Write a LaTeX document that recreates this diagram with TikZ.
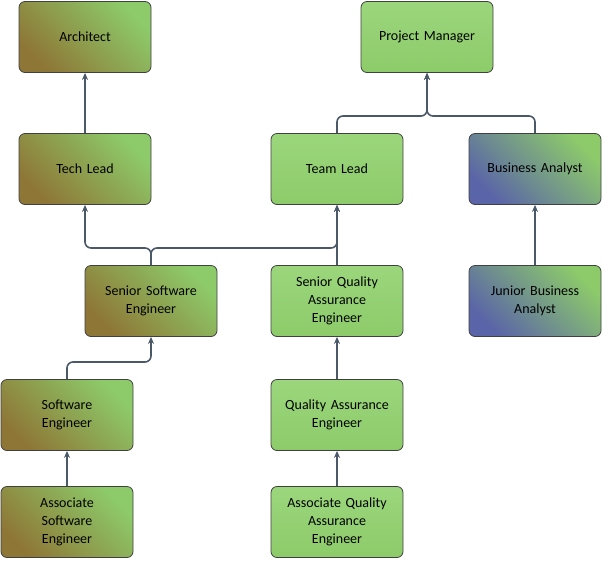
\documentclass[tikz,border=0pt]{standalone}
\usepackage{fontspec}
\setmainfont{Carlito}
\begin{document}
\begin{tikzpicture}[x=1pt,y=-1pt,
 box/.style={draw=black!75,line width=0.8pt,rounded corners=6pt,minimum width=132pt,minimum height=71pt,align=center,font=\fontsize{14}{18}\selectfont,text width=120pt},
 bg/.style={box,left color=brn,right color=grn,shading angle=135},
 gg/.style={box,top color=gtop,bottom color=grn},
 bb/.style={box,left color=blu,right color=grn,shading angle=135},
 con/.style={draw=lin,line width=1.6pt,rounded corners=6pt,-{Stealth[length=7pt,width=6pt]}}]
\usetikzlibrary{arrows.meta}
\definecolor{brn}{HTML}{8E7636}
\definecolor{grn}{HTML}{8DCB6A}
\definecolor{gtop}{HTML}{9BD67C}
\definecolor{blu}{HTML}{5A64A8}
\definecolor{lin}{HTML}{4A5868}
\useasboundingbox (0,0) rectangle (604,563);
\node[bg] (arch) at (85,37) {Architect};
\node[gg] (pm) at (427,37) {Project Manager};
\node[bg] (tl) at (85,169) {Tech Lead};
\node[gg] (team) at (337,169) {Team Lead};
\node[bb] (ba) at (535,169) {Business Analyst};
\node[bg] (sse) at (151,301) {Senior Software\\Engineer};
\node[gg] (sqa) at (337,301) {Senior Quality\\Assurance\\Engineer};
\node[bb] (jba) at (535,301) {Junior Business\\Analyst};
\node[bg] (se) at (67,415) {Software\\Engineer};
\node[gg] (qa) at (337,415) {Quality Assurance\\Engineer};
\node[bg] (ase) at (67,522) {Associate\\Software\\Engineer};
\node[gg] (aqa) at (337,522) {Associate Quality\\Assurance\\Engineer};
\draw[con] (tl) -- (arch);
\draw[con] (team.north) |- (427,116) -- (pm.south);
\draw[con] (ba.north) |- (427,116) -- (pm.south);
\draw[con] (sse.north) |- (85,248) -- (tl.south);
\draw[con] (sse.north) |- (337,248) -- (team.south);
\draw[con] (sqa) -- (team);
\draw[con] (jba) -- (ba);
\draw[con] (se.north) |- (151,362) -- (sse.south);
\draw[con] (qa) -- (sqa);
\draw[con] (ase) -- (se);
\draw[con] (aqa) -- (qa);
\end{tikzpicture}
\end{document}
